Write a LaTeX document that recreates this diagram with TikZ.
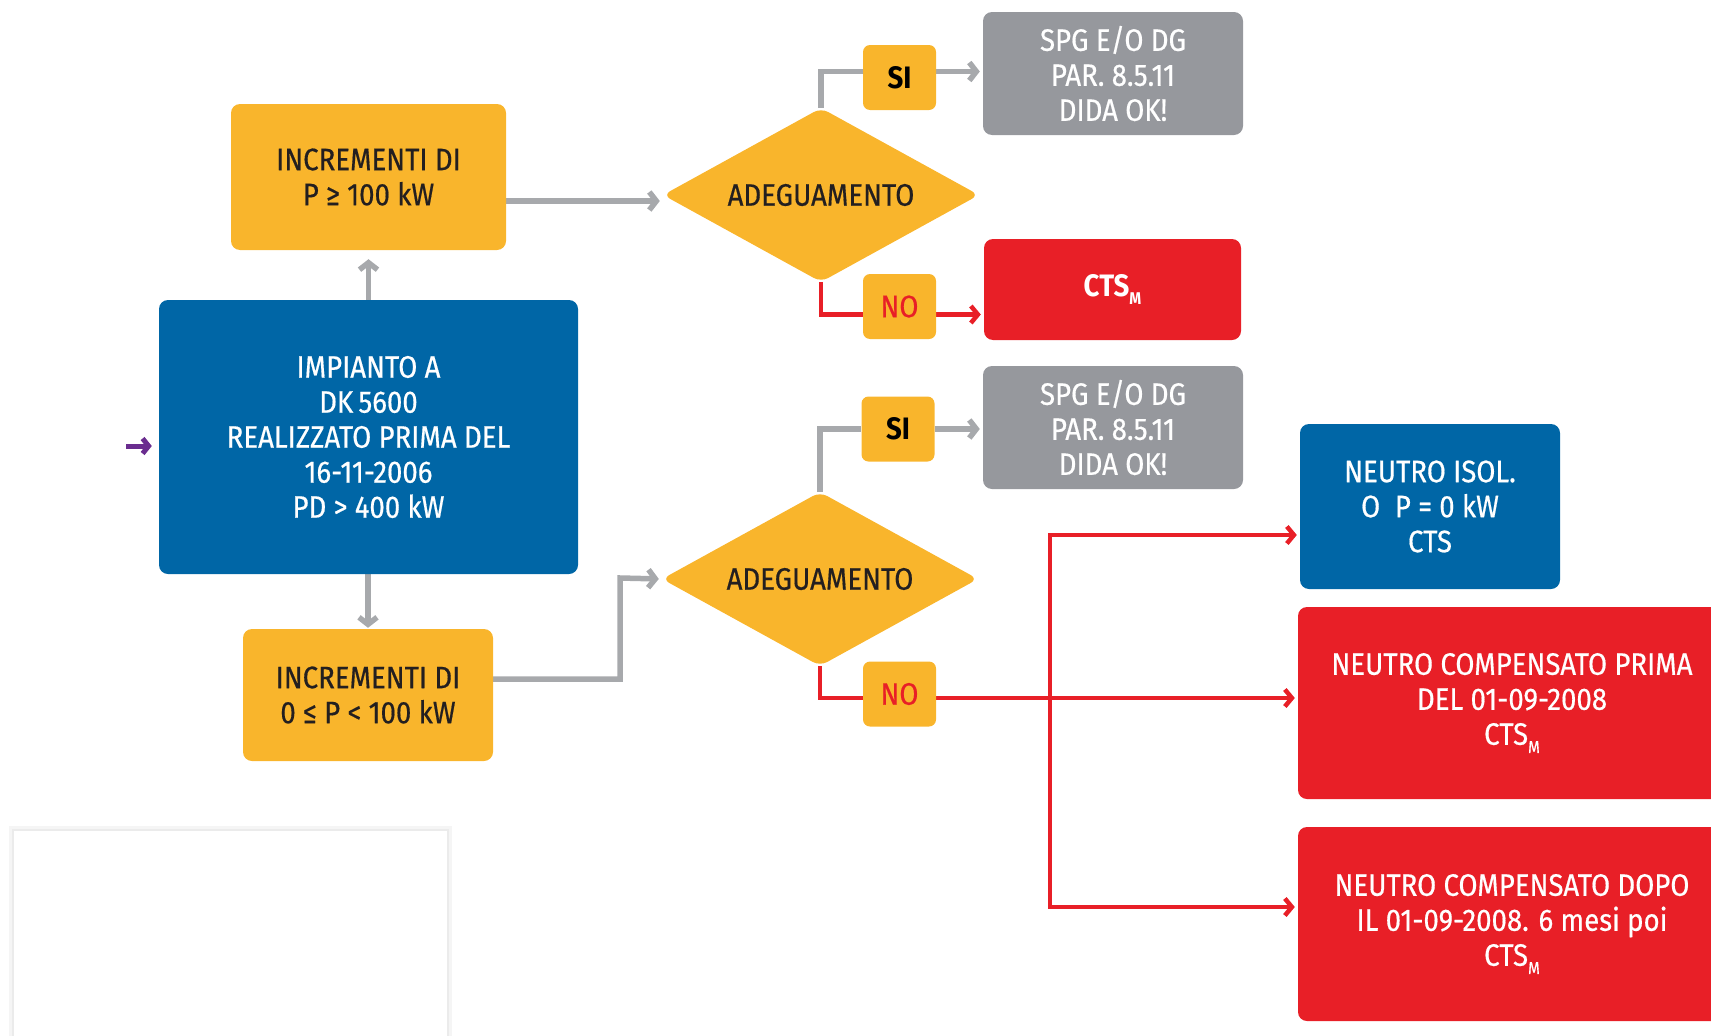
\documentclass[tikz,border=0pt]{standalone}
\usepackage{fontspec}
\setmainfont{Fira Sans}[FakeStretch=0.89, UprightFeatures={FakeBold=0.5}]
\usetikzlibrary{shapes.geometric,arrows.meta,backgrounds}
\definecolor{cyel}{HTML}{F9B52C}
\definecolor{cblue}{HTML}{0066A6}
\definecolor{cred}{HTML}{E81F27}
\definecolor{cgray}{HTML}{96989D}
\definecolor{cline}{HTML}{A7A9AC}
\definecolor{cpurp}{HTML}{6A2D8F}
\definecolor{ctext}{HTML}{231F20}
\newcommand\subM{\raisebox{-0.5ex}{\smash{\fontsize{17}{17}\selectfont M}}}
\tikzset{
  box/.style={rounded corners=9pt, align=center, inner sep=0pt, anchor=center,
    font=\fontsize{31}{35}\selectfont},
  ybox/.style={box, fill=cyel, text=ctext},
  bbox/.style={box, fill=cblue, text=white},
  rbox/.style={box, fill=cred, text=white},
  gbox/.style={box, fill=cgray, text=white},
  tag/.style={box, rounded corners=7pt, fill=cyel, minimum width=73pt, minimum height=65pt},
  dec/.style={diamond, aspect=1.81, fill=cyel, text=ctext, minimum width=316pt, minimum height=174pt,
    inner sep=0pt, rounded corners=8pt, font=\fontsize{31}{35}\selectfont},
  gline/.style={draw=cline, line width=5.5pt},
  garrow/.style={gline, -{Straight Barb[length=7pt,width=18pt]}, shorten >=3pt},
  rline/.style={draw=cred, line width=4.5pt},
  rarrow/.style={rline, -{Straight Barb[length=7pt,width=17pt]}, shorten >=3pt},
}
\begin{document}
\begin{tikzpicture}[x=1pt,y=-1pt]
\useasboundingbox (0,0) rectangle (1711,1036);
% empty card bottom-left with soft shadow
\fill[black!4] (9,826) rectangle (452,1045);
\fill[black!8] (12,829) rectangle (449,1045);
\fill[white] (14,831) rectangle (447,1045);

\node[ybox, minimum width=275pt, minimum height=146pt] (tyb) at (368.5,177) {INCREMENTI DI\\P ≥ 100 kW};
\node[bbox, minimum width=419pt, minimum height=274pt] (blue) at (368.5,437)
  {IMPIANTO A\\DK\,5600\\REALIZZATO PRIMA DEL\\16-11-2006\\PD > 400 kW};
\node[ybox, minimum width=250pt, minimum height=132pt] (byb) at (368,695) {INCREMENTI DI\\0 ≤ P < 100 kW};

\node[dec] (d1) at (821,195) {ADEGUAMENTO};
\node[tag, font=\fontsize{31}{35}\selectfont\bfseries, text=black] (si1) at (899.5,77.5) {SI};
\node[gbox, minimum width=260pt, minimum height=123pt] (g1) at (1113,73.5) {SPG E/O DG\\PAR. 8.5.11\\DIDA OK!};
\node[tag, text=cred] (no1) at (899.5,306.5) {NO};
\node[rbox, minimum width=257pt, minimum height=101pt, font=\fontsize{31}{35}\selectfont\bfseries] (r1) at (1112.5,289.5) {CTS\subM};

\node[dec] (d2) at (820,579) {ADEGUAMENTO};
\node[tag, font=\fontsize{31}{35}\selectfont\bfseries, text=black] (si2) at (898,429) {SI};
\node[gbox, minimum width=260pt, minimum height=123pt] (g2) at (1113,427.5) {SPG E/O DG\\PAR. 8.5.11\\DIDA OK!};
\node[tag, text=cred] (no2) at (899.5,694) {NO};

\node[bbox, minimum width=260pt, minimum height=165pt] (b3) at (1430,506.5) {NEUTRO ISOL.\\O\ \ P = 0 kW\\CTS};
\node[rbox, minimum width=428pt, minimum height=192pt] (r2) at (1512,703) {NEUTRO COMPENSATO PRIMA\\DEL 01-09-2008\\CTS\subM};
\node[rbox, minimum width=428pt, minimum height=194pt] (r3) at (1512,924) {NEUTRO COMPENSATO DOPO\\IL 01-09-2008. 6 mesi poi\\CTS\subM};

\coordinate (pin) at (126,446);
\coordinate (vtop) at (1050,535);
\coordinate (vbot) at (1050,907);
\coordinate (bend) at (620,578);

\begin{scope}[on background layer]
\draw[garrow] ([yshift=-24pt]tyb.east) -- ([yshift=-24pt]tyb.east -| d1.west);
\draw[garrow, shorten >=9pt] (blue.north) -- (tyb.south);
\draw[garrow, shorten >=1pt] (blue.south -| byb.north) -- (byb.north);
\draw[garrow] ([yshift=16pt]byb.east) -| (bend) -- (d2.west);
\draw[gline] (d1.north) |- ([yshift=6pt]si1.west);
\draw[garrow] ([yshift=6pt]si1.east) -- ([yshift=6pt]si1.east -| g1.west);
\draw[gline] (d2.north) |- (si2.west);
\draw[garrow] (si2.east) -- (si2.east -| g2.west);
\draw[rline] (d1.south) |- ([yshift=-8pt]no1.west);
\draw[rarrow] ([yshift=-8pt]no1.east) -- ([yshift=-8pt]no1.east -| r1.west);
\draw[rline] (d2.south) |- ([yshift=-4pt]no2.west);
\draw[rarrow] ([yshift=-4pt]no2.east) -- ([yshift=-4pt]no2.east -| r2.west);
\draw[rarrow] (vbot) -- (vtop) -- (vtop -| b3.west);
\draw[rarrow] (vtop) |- (vbot -| r3.west);
\draw[cpurp, line width=5pt, -{Straight Barb[length=6pt,width=15pt]}, shorten >=7pt] (pin) -- (pin -| blue.west);
\end{scope}
\end{tikzpicture}
\end{document}
